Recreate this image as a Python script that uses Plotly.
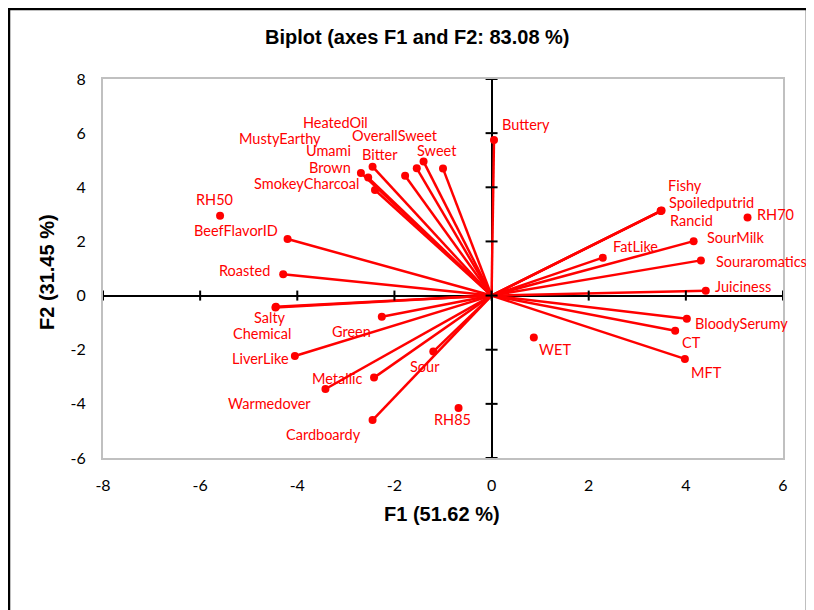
import plotly.graph_objects as go

# ---------------- data ----------------
var_names = ["Brown", "Umami", "Bitter", "SmokeyCharcoal", "MustyEarthy", "HeatedOil",
             "OverallSweet", "Sweet", "Buttery", "BeefFlavorID", "Roasted", "Salty",
             "Chemical", "Green", "LiverLike", "Sour", "Metallic", "Warmedover",
             "Cardboardy", "Fishy", "Spoiledputrid", "Rancid", "FatLike", "SourMilk",
             "Souraromatics", "Juiciness", "BloodySerumy", "CT", "MFT"]
var_f1 = [-2.69, -2.54, -2.45, -2.40, -1.78, -1.54, -1.40, -1.00, 0.05, -4.20, -4.29, -4.44,
          -4.45, -2.26, -4.05, -1.20, -2.42, -3.42, -2.45, 3.49, 3.48, 3.50, 2.29, 4.16,
          4.31, 4.41, 4.02, 3.78, 3.98]
var_f2 = [4.53, 4.36, 4.76, 3.90, 4.43, 4.70, 4.95, 4.69, 5.75, 2.09, 0.79, -0.41,
          -0.44, -0.78, -2.23, -2.07, -3.03, -3.45, -4.60, 3.13, 3.12, 3.14, 1.40, 2.01,
          1.30, 0.18, -0.86, -1.30, -2.34]

obs_names = ["RH50", "RH70", "RH85", "WET"]
obs_f1 = [-5.59, 5.27, -0.68, 0.87]
obs_f2 = [2.95, 2.88, -4.15, -1.55]

x_ticks = [-8, -6, -4, -2, 0, 2, 4, 6]
y_ticks = [-6, -4, -2, 0, 2, 4, 6, 8]

title_text = "Biplot (axes F1 and F2: 83.08 %)"
x_title = "F1 (51.62 %)"
y_title = "F2 (31.45 %)"

# ---------------- label placement (pixel offsets of label centre from point) ----------------
label_offsets = {
    "Brown": (-31, -5), "Umami": (-40, -27), "Bitter": (7, -12), "SmokeyCharcoal": (-69, -6),
    "MustyEarthy": (-125, -37), "HeatedOil": (-81, -46), "OverallSweet": (-29, -26),
    "Sweet": (-6, -18), "Buttery": (32, -15), "BeefFlavorID": (-52, -8), "Roasted": (-39, -4),
    "Salty": (-6, 11), "Chemical": (-13, 26), "Green": (-30, 15), "LiverLike": (-34, 3),
    "Sour": (-8, 15), "Metallic": (-37, 1), "Warmedover": (-56, 15), "Cardboardy": (-49, 14),
    "Fishy": (24, -25), "Spoiledputrid": (51, -9), "Rancid": (30, 10), "FatLike": (33, -11),
    "SourMilk": (42, -4), "Souraromatics": (61, 1), "Juiciness": (37, -4),
    "BloodySerumy": (55, 5), "CT": (16, 12), "MFT": (22, 14),
    "RH50": (-6, -16), "RH70": (28, -3), "RH85": (-6, 12), "WET": (21, 12),
}

RED = "#FF0000"
LABEL_FONT = dict(family="Lato, Carlito, Calibri, sans-serif", size=14.5, color=RED)
TICK_FONT = dict(family="Lato, Carlito, Calibri, sans-serif", size=16, color="black")
TITLE_FAMILY = "Liberation Sans Narrow, Arial Narrow, Liberation Sans, Arial, sans-serif"

# the page body adds an 8 px margin; the figure is sized so that the plot sits at
# screen x 103..783, y 79..458
BODY = 8
L, T, PW, PH = 103 - BODY, 79 - BODY, 680, 379
W, H = 814 - BODY, 610 - BODY

fig = go.Figure()

lx, ly = [], []
for a, b in zip(var_f1, var_f2):
    lx += [0, a, None]
    ly += [0, b, None]
fig.add_trace(go.Scatter(x=lx, y=ly, mode="lines", line=dict(color=RED, width=2.5),
                         hoverinfo="skip", showlegend=False))
fig.add_trace(go.Scatter(x=var_f1, y=var_f2, mode="markers", text=var_names,
                         marker=dict(color=RED, size=8), showlegend=False))
fig.add_trace(go.Scatter(x=obs_f1, y=obs_f2, mode="markers", text=obs_names,
                         marker=dict(color=RED, size=8), showlegend=False))

for names, xs, ys in ((var_names, var_f1, var_f2), (obs_names, obs_f1, obs_f2)):
    for n, a, b in zip(names, xs, ys):
        dx, dy = label_offsets[n]
        fig.add_annotation(x=a, y=b, text=n, showarrow=False, xshift=dx, yshift=-dy,
                           xanchor="center", yanchor="middle", font=LABEL_FONT,
                           borderpad=0)


def px_x(sx):  # screen x -> paper x
    return (sx - 103) / PW


def px_y(sy):  # screen y -> paper y
    return (458 - sy) / PH


shapes = []
for t in y_ticks:
    shapes.append(dict(type="line", xref="x", yref="y", xsizemode="pixel", xanchor=0,
                       x0=-6, x1=6, y0=t, y1=t, line=dict(color="black", width=2)))
for t in x_ticks:
    shapes.append(dict(type="line", xref="x", yref="y", ysizemode="pixel", yanchor=0,
                       y0=-5, y1=5, x0=t, x1=t, line=dict(color="black", width=2)))
shapes.append(dict(type="rect", xref="paper", yref="paper",
                   x0=px_x(9), x1=px_x(807), y0=px_y(640), y1=px_y(9),
                   line=dict(color="black", width=2.5), layer="below"))

fig.update_layout(
    width=W, height=H,
    margin=dict(l=L, r=W - L - PW, t=T, b=H - T - PH),
    paper_bgcolor="white", plot_bgcolor="white",
    showlegend=False,
    shapes=shapes,
    xaxis=dict(range=[-8, 6], tickvals=x_ticks, ticktext=[str(v) for v in x_ticks],
               showgrid=False, zeroline=True, zerolinecolor="black", zerolinewidth=2,
               showline=True, mirror=True, linecolor="#C0C0C0", linewidth=2,
               tickfont=TICK_FONT, ticks="", ticklabelstandoff=12, fixedrange=True),
    yaxis=dict(range=[-6, 8], tickvals=y_ticks, ticktext=[str(v) for v in y_ticks],
               showgrid=False, zeroline=True, zerolinecolor="black", zerolinewidth=2,
               showline=True, mirror=True, linecolor="#C0C0C0", linewidth=2,
               tickfont=TICK_FONT, ticks="", ticklabelstandoff=12, fixedrange=True),
)

fig.add_annotation(text="<b>" + title_text + "</b>", xref="paper", yref="paper",
                   x=px_x(417), y=px_y(37), showarrow=False,
                   xanchor="center", yanchor="middle",
                   font=dict(family=TITLE_FAMILY, size=20, color="black"))
fig.add_annotation(text="<b>" + x_title + "</b>", xref="paper", yref="paper",
                   x=px_x(442), y=px_y(514), showarrow=False,
                   xanchor="center", yanchor="middle",
                   font=dict(family=TITLE_FAMILY, size=20, color="black"))
fig.add_annotation(text="<b>" + y_title + "</b>", xref="paper", yref="paper",
                   x=px_x(47), y=px_y(272), showarrow=False,
                   textangle=-90, xanchor="center", yanchor="middle",
                   font=dict(family=TITLE_FAMILY, size=20, color="black"))

fig.write_html("out.html")
